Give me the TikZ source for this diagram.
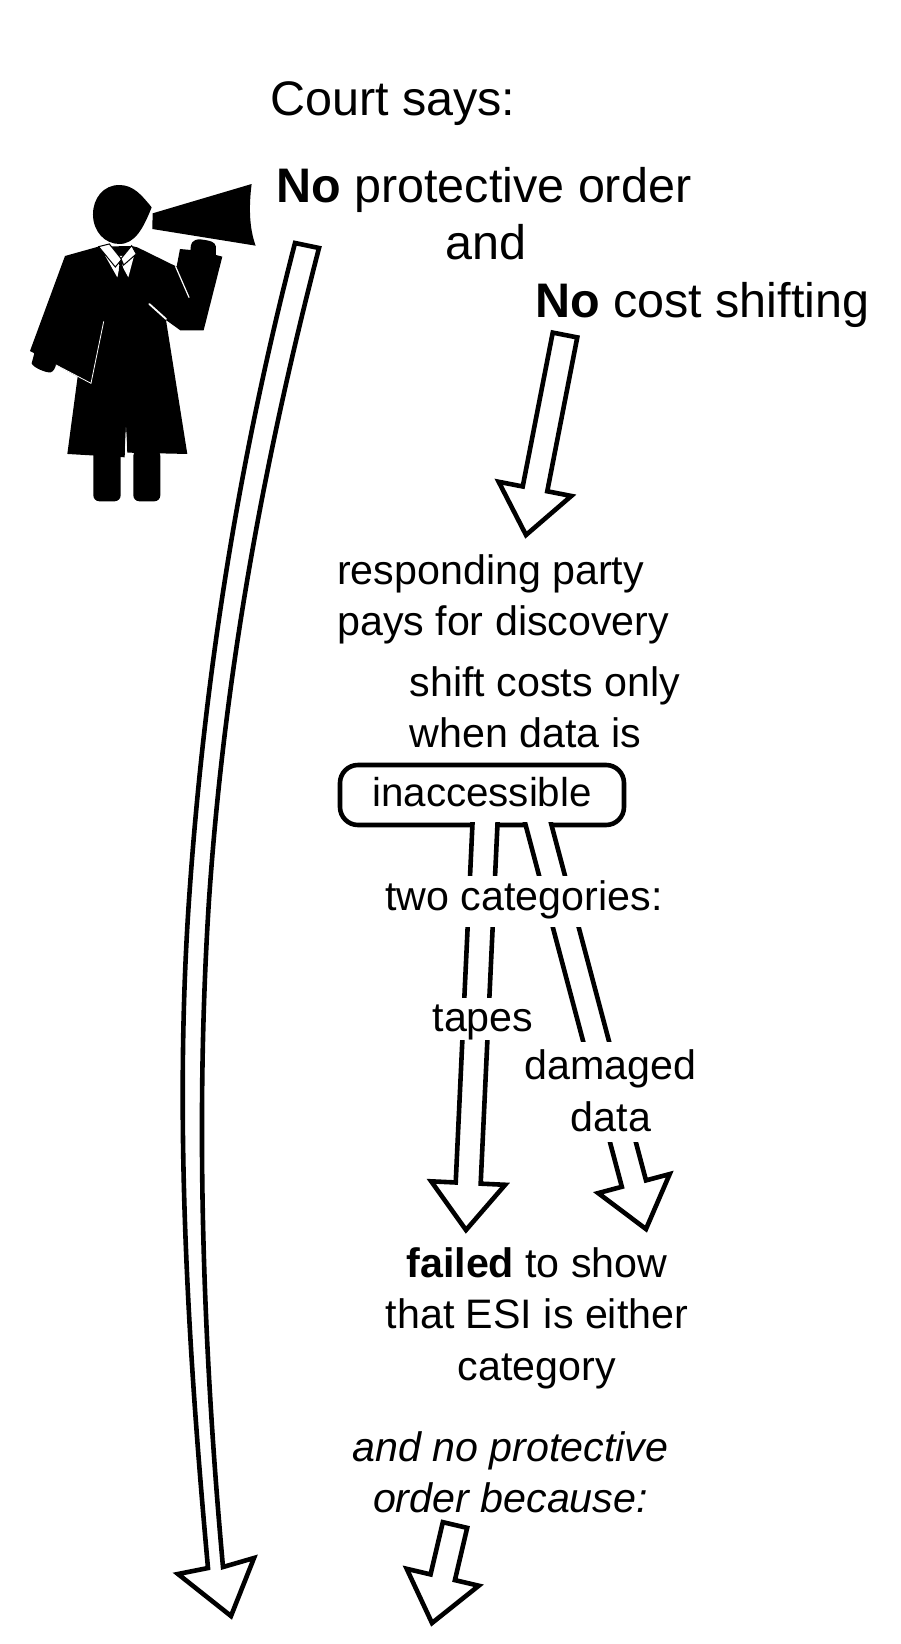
\documentclass[tikz,border=0pt]{standalone}
\usepackage{fontspec}
\setmainfont{Liberation Sans}
\usetikzlibrary{calc}
\newcommand\hollowpts{
  ($(\tikztostart)!12.5pt!90:(\tikztotarget)$)
  -- ($(\tikztotarget)!47pt!(\tikztostart)!12.5pt!90:(\tikztotarget)$)
  -- ($(\tikztotarget)!47pt!(\tikztostart)!37pt!90:(\tikztotarget)$)
  -- (\tikztotarget)
  -- ($(\tikztotarget)!47pt!(\tikztostart)!37pt!-90:(\tikztotarget)$)
  -- ($(\tikztotarget)!47pt!(\tikztostart)!12.5pt!-90:(\tikztotarget)$)
  -- ($(\tikztostart)!12.5pt!-90:(\tikztotarget)$)}
\tikzset{
  bigtxt/.style={anchor=base, inner sep=0pt, font=\fontsize{48.5}{52}\selectfont},
  smalltxt/.style={anchor=base, inner sep=0pt, font=\fontsize{41.2}{51.5}\selectfont},
  gaptxt/.style={smalltxt, fill=white},
  hollowline/.style={draw, line width=4.6pt, fill=white, miter limit=10},
  hollowclosed/.style={hollowline, to path={\hollowpts -- cycle}},
  hollowopen/.style={hollowline, to path={\hollowpts}},
  judgeblack/.style={fill=black},
  judgewhite/.style={draw=white, line cap=round}
}
\begin{document}
\begin{tikzpicture}[x=1pt, y=-1pt, line join=miter]
\useasboundingbox (0,0) rectangle (900,1644);
% judge with megaphone
\begin{scope}[shift={(0,150)}, x=0.3333pt, y=-0.3333pt]
  \fill[judgeblack] (455,172) .. controls (425,135) and (400,105) .. (358,105)
    .. controls (310,105) and (279,145) .. (279,193)
    .. controls (279,245) and (315,282) .. (358,282)
    .. controls (405,282) and (430,235) .. (455,172) -- cycle;
  \fill[judgeblack] (458,190) -- (755,102) .. controls (745,180) and (750,240) .. (767,287)
    -- (457,237) -- cycle;
  % robe and arms
  \fill[judgeblack] (295,290) -- (195,318) -- (90,603) -- (103,610) -- (95,640)
    .. controls (98,652) and (140,670) .. (152,667) .. controls (160,665) and (165,655) .. (168,645)
    -- (233,680) -- (202,912) -- (374,922) -- (378,830) -- (382,908) -- (562,912)
    -- (498,510) -- (541,541) -- (611,541) -- (667,320) -- (648,315) -- (648,290)
    .. controls (645,275) and (632,272) .. (600,268)
    .. controls (578,268) and (570,280) .. (572,300) -- (540,297) -- (530,350)
    -- (412,292) -- (395,288) -- cycle;
  \fill[judgeblack, rounded corners=6pt] (280,900) -- (280,1054) -- (362,1054) -- (362,900) -- cycle;
  \fill[judgeblack, rounded corners=6pt] (400,900) -- (400,1054) -- (481,1054) -- (481,900) -- cycle;
  \fill[white] (378,832) -- (375,908) -- (381,908) -- cycle;
  % shirt, tie and collar
  \fill[white] (316,318) -- (352,382) -- (362,340) -- (385,382) -- (402,318) -- cycle;
  \fill[judgeblack] (350,330) -- (374,330) -- (367,345) -- (378,388) -- (354,388) -- (358,345) -- cycle;
  \filldraw[fill=white, draw=black, line width=1pt] (296,290) -- (328,282) -- (365,328) -- (346,351) -- cycle;
  \filldraw[fill=white, draw=black, line width=1pt] (395,287) -- (409,312) -- (371,345) -- (363,326) -- cycle;
  % fold lines
  \draw[judgewhite, line width=1.2pt] (527,350) -- (567,442);
  \draw[judgewhite, line width=1.8pt] (448,462) -- (498,507);
  \draw[judgewhite, line width=.8pt] (311,515) -- (273,700) -- (168,645);
\end{scope}
% ends of the arrows
\path
  (565,335) coordinate (costtop)
  (526,535) coordinate (costtip)
  (485.4,815) coordinate (tapestop)
  (466,1230) coordinate (tapestip)
  (535.9,815) coordinate (damagedtop)
  (646,1229) coordinate (damagedtip)
  (455,1525) coordinate (becausetop)
  (432,1623) coordinate (becausetip);
\node[smalltxt, font=\fontsize{40.3}{50}\selectfont, draw, line width=4.6pt, rounded corners=18pt,
  minimum width=284pt, minimum height=60pt, text height=36pt, text depth=14pt, anchor=center]
  (inaccessible) at (482,795) {inaccessible};
\foreach \a/\b in {costtop/costtip, becausetop/becausetip}
  \draw[hollowclosed] (\a) to (\b);
% these two open through the bottom edge of the box
\begin{scope}
  \clip (300,822.7) rectangle (700,1300);
  \foreach \a/\b in {tapestop/tapestip, damagedtop/damagedtip}
    \draw[hollowopen] (\a) to (\b);
\end{scope}
% long curved arrow
\draw[hollowline] (295,243) .. controls (238,463) and (204,680) .. (189,900)
  .. controls (174,1120) and (188,1348) .. (208,1568)
  -- (178,1574) -- (231,1616) -- (254,1558) -- (223,1567)
  .. controls (203,1347) and (195,1120) .. (209,900)
  .. controls (224,680) and (262,468) .. (319,248) -- cycle;
% texts
\node[bigtxt, anchor=base west] (courtsays) at (270,115) {Court says:};
\node[bigtxt, anchor=base west] (noorder) at (276,202) {\textbf{No} protective order};
\node[bigtxt] (andword) at (486,259.5) {and};
\node[bigtxt, anchor=base west] (nocost) at (535,317) {\textbf{No} cost shifting};
\node[smalltxt, align=left, anchor=base west] (responding) at (337,635.5) {responding party\\pays for discovery};
\node[smalltxt, align=left, anchor=base west] (shiftcosts) at (409.5,747.5) {shift costs only\\when data is};
\node[gaptxt, text height=34pt, text depth=17pt] (twocat) at (524,910) {two categories:};
\node[gaptxt, text height=33pt, text depth=9pt] (tapes) at (483,1031) {tapes};
\node[gaptxt, text height=37pt, text depth=14pt] (damaged) at (610.5,1079) {damaged};
\node[gaptxt, text height=38pt, text depth=11pt] (data) at (611,1131) {data};
\node[smalltxt, align=center] (failed) at (537,1380) {\textbf{failed} to show\\that ESI is either\\category};
\node[smalltxt, align=center] (becausetxt) at (510.5,1512.5) {\itshape and no protective\\\itshape order because:};
\end{tikzpicture}
\end{document}
